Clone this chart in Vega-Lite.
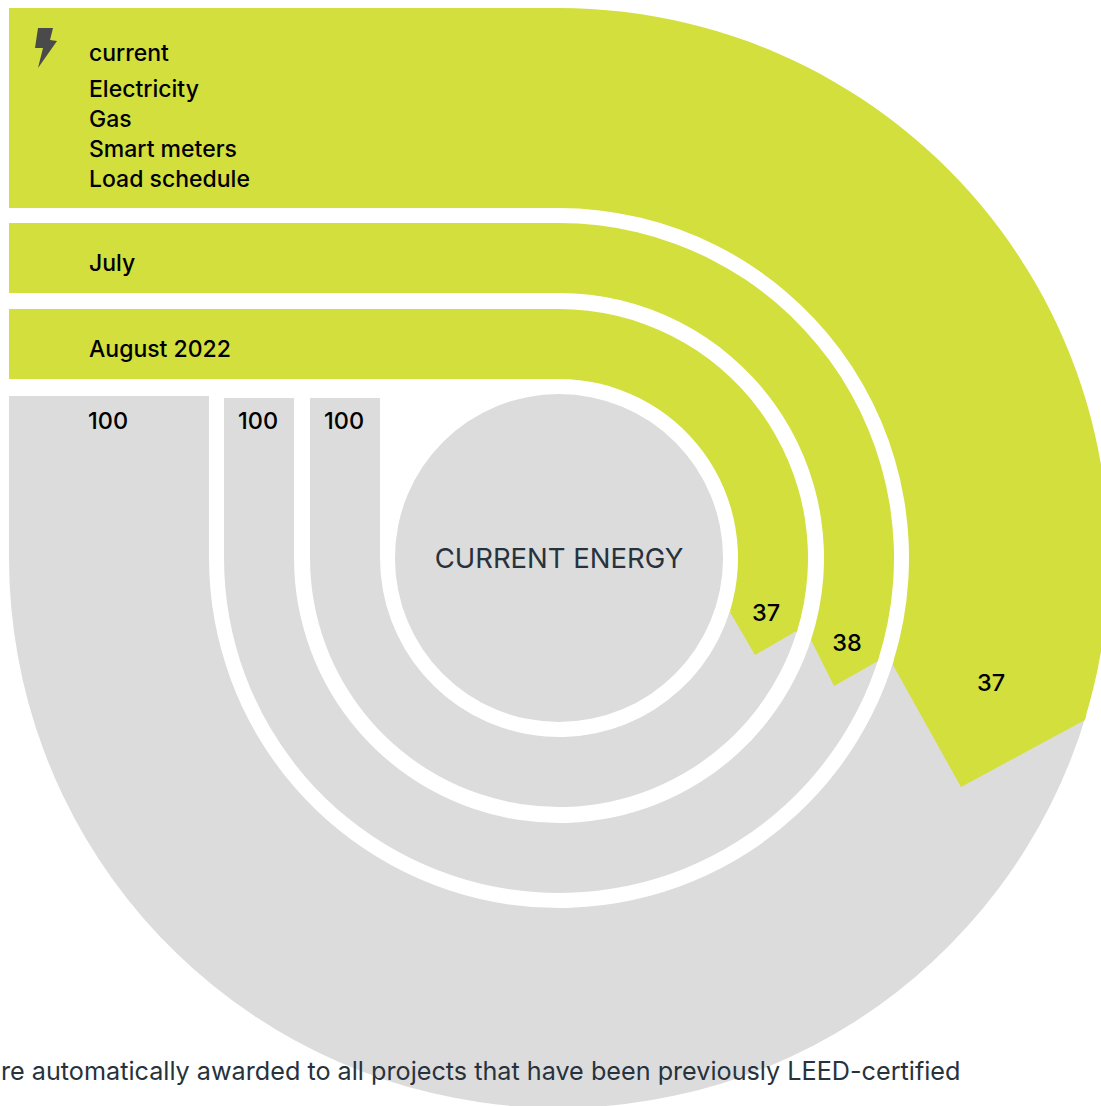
{
"$schema":"https://vega.github.io/schema/vega-lite/v6.json",
"width":1101,"height":1106,"padding":0,"autosize":{"type":"none"},
"background":"#ffffff",
"config":{"view":{"stroke":null}},
"datasets":{
"arcs":[
{"ring":"all","status":"remaining","start":106.5,"end":270,"inner":350,"outer":550},
{"ring":"july","status":"remaining","start":107,"end":270,"inner":265,"outer":335},
{"ring":"august","status":"remaining","start":107,"end":270,"inner":179,"outer":249},
{"ring":"center","status":"remaining","start":0,"end":360,"inner":0,"outer":164},
{"ring":"all","status":"achieved","start":0,"end":107,"inner":350,"outer":550},
{"ring":"july","status":"achieved","start":0,"end":107.9,"inner":265,"outer":335},
{"ring":"august","status":"achieved","start":0,"end":107.2,"inner":179,"outer":249}
],
"bars":[
{"ring":"all","status":"achieved","x0":-550,"x1":0.5,"y0":-550,"y1":-350},
{"ring":"july","status":"achieved","x0":-550,"x1":0.5,"y0":-335,"y1":-265},
{"ring":"august","status":"achieved","x0":-550,"x1":0.5,"y0":-249,"y1":-179},
{"ring":"all","status":"remaining","x0":-550,"x1":-350,"y0":-162,"y1":0.5},
{"ring":"july","status":"remaining","x0":-335,"x1":-265,"y0":-160,"y1":0.5},
{"ring":"august","status":"remaining","x0":-249,"x1":-179,"y0":-160,"y1":0.5}
],
"tips":[
{"ring":"all","i":0,"px":334,"py":107},
{"ring":"all","i":1,"px":402,"py":229},
{"ring":"all","i":2,"px":526,"py":162},
{"ring":"all","i":3,"px":527,"py":157},
{"ring":"all","i":4,"px":335.5,"py":100.3},
{"ring":"july","i":0,"px":252,"py":82},
{"ring":"july","i":1,"px":275,"py":128},
{"ring":"july","i":2,"px":319,"py":103},
{"ring":"july","i":3,"px":285,"py":75},
{"ring":"august","i":0,"px":171,"py":54},
{"ring":"august","i":1,"px":196,"py":97},
{"ring":"august","i":2,"px":239,"py":72},
{"ring":"august","i":3,"px":205,"py":50}
],
"bolt":[
{"i":0,"px":-521,"py":-530},
{"i":1,"px":-506,"py":-530},
{"i":2,"px":-509,"py":-518},
{"i":3,"px":-502,"py":-517},
{"i":4,"px":-521,"py":-490},
{"i":5,"px":-516,"py":-510},
{"i":6,"px":-524,"py":-510}
],
"rowLabels":[
{"text":"current","px":-470,"py":-497},
{"text":"Electricity","px":-470,"py":-461},
{"text":"Gas","px":-470,"py":-431},
{"text":"Smart meters","px":-470,"py":-401},
{"text":"Load schedule","px":-470,"py":-371},
{"text":"July","px":-470,"py":-287},
{"text":"August 2022","px":-470,"py":-201}
],
"valueLabels":[
{"text":"100","px":-451,"py":-129},
{"text":"100","px":-301,"py":-129},
{"text":"100","px":-215,"py":-129},
{"text":"37","px":207,"py":63},
{"text":"38","px":288,"py":93},
{"text":"37","px":432,"py":133}
],
"title":[{"text":"CURRENT ENERGY","px":0,"py":10}],
"note":[{"text":"re automatically awarded to all projects that have been previously LEED-certified","px":-558,"py":522}]
},
"layer":[
{"data":{"name":"arcs"},"mark":{"type":"arc"},
 "encoding":{
 "x":{"datum":0,"type":"quantitative","scale":{"domain":[-559,542],"range":[0,1101],"nice":false,"zero":false},"axis":null},
 "y":{"datum":0,"type":"quantitative","scale":{"domain":[-558,548],"range":[0,1106],"nice":false,"zero":false},"axis":null},
 "theta":{"field":"start","type":"quantitative","scale":{"domain":[0,360],"range":[0,6.283185307]},"stack":null},
 "theta2":{"field":"end"},
 "radius":{"field":"inner","type":"quantitative","scale":{"type":"linear","domain":[0,550],"range":[0,550],"zero":false,"nice":false}},
 "radius2":{"field":"outer"},
 "color":{"field":"status","type":"nominal","scale":{"domain":["achieved","remaining"],"range":["#d2df3c","#dcdcdc"]},"legend":null},
 "order":{"field":"status","sort":"descending"}
 }},
{"data":{"name":"tips"},"mark":{"type":"line","fill":"#d2df3c","strokeWidth":0},
 "encoding":{
 "x":{"field":"px","type":"quantitative"},
 "y":{"field":"py","type":"quantitative"},
 "detail":{"field":"ring"},
 "order":{"field":"i"}
 }},
{"data":{"name":"bars"},"mark":{"type":"rect"},
 "encoding":{
 "x":{"field":"x0","type":"quantitative"},"x2":{"field":"x1"},
 "y":{"field":"y0","type":"quantitative"},"y2":{"field":"y1"},
 "color":{"field":"status","type":"nominal","legend":null}
 }},
{"data":{"name":"bolt"},"mark":{"type":"line","fill":"#4a4a4a","strokeWidth":0},
 "encoding":{
 "x":{"field":"px","type":"quantitative"},
 "y":{"field":"py","type":"quantitative"},
 "order":{"field":"i"}
 }},
{"data":{"name":"rowLabels"},"mark":{"type":"text","font":"Inter","fontSize":23,"fontWeight":500,"fill":"#000000","baseline":"alphabetic","align":"left"},
 "encoding":{
 "x":{"field":"px","type":"quantitative"},
 "y":{"field":"py","type":"quantitative"},
 "text":{"field":"text"}
 }},
{"data":{"name":"valueLabels"},"mark":{"type":"text","font":"Inter","fontSize":23.5,"fontWeight":500,"fill":"#000000","baseline":"alphabetic","align":"center"},
 "encoding":{
 "x":{"field":"px","type":"quantitative"},
 "y":{"field":"py","type":"quantitative"},
 "text":{"field":"text"}
 }},
{"data":{"name":"title"},"mark":{"type":"text","font":"Inter","fontSize":27.5,"fontWeight":400,"fill":"#27323d","baseline":"alphabetic","align":"center"},
 "encoding":{
 "x":{"field":"px","type":"quantitative"},
 "y":{"field":"py","type":"quantitative"},
 "text":{"field":"text"}
 }},
{"data":{"name":"note"},"mark":{"type":"text","font":"Inter","fontSize":25.2,"fontWeight":400,"fill":"#27323d","baseline":"alphabetic","align":"left"},
 "encoding":{
 "x":{"field":"px","type":"quantitative"},
 "y":{"field":"py","type":"quantitative"},
 "text":{"field":"text"}
 }}
]
}
